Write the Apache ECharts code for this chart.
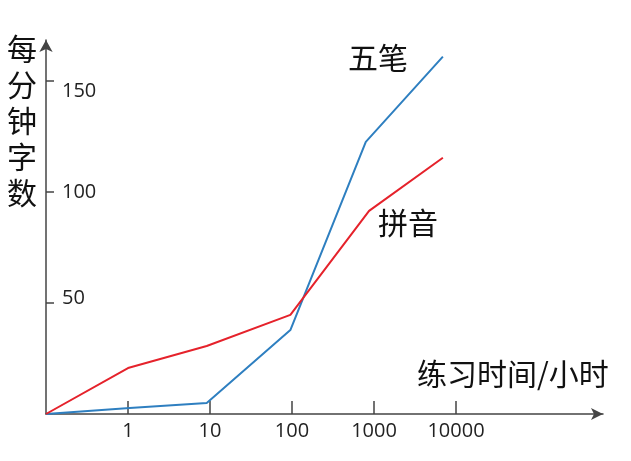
<!DOCTYPE html>
<html><head><meta charset="utf-8">
<script src="https://cdn.jsdelivr.net/npm/echarts@6/dist/echarts.min.js"></script>
<style>html,body{margin:0;padding:0;background:#fff}#c{width:631px;height:461px}</style>
</head><body><div id="c"></div>
<script>
var xTickLabels = ['0', '1', '10', '100', '1000', '10000'];
var wubiX = [0, 1.02, 1.96, 2.98, 3.9, 4.84];
var wubiY = [0, 2.7, 5, 37.8, 122.5, 160.8];
var pinyinX = [0, 1.0, 1.96, 2.98, 3.94, 4.84];
var pinyinY = [0, 20.7, 30.6, 44.6, 91.4, 115.3];
var yTicks = [50, 100, 150];
var FONT = '"Noto Sans CJK SC", "Microsoft YaHei", sans-serif';
var NUMFONT = '"Open Sans", "Noto Sans", sans-serif';

function pairs(xs, ys) { return xs.map(function (x, i) { return [x, ys[i]]; }); }

var chart = echarts.init(document.getElementById('c'), null, {renderer: 'canvas'});
chart.setOption({
  animation: false,
  grid: {left: 46, right: 28, top: 40, bottom: 47, containLabel: false},
  xAxis: {
    type: 'value', min: 0, max: (631 - 28 - 46) / 82, interval: 1,
    splitLine: {show: false},
    axisLine: {lineStyle: {color: '#444', width: 1.5}, symbol: ['none', 'arrow'], symbolSize: [9, 12], symbolOffset: [0, 0]},
    axisTick: {show: true, inside: true, length: 13, customValues: [1, 2, 3, 4, 5], lineStyle: {color: '#444', width: 1.5}},
    axisLabel: {
      customValues: [1, 2, 3, 4, 5],
      formatter: function (v) { return xTickLabels[Math.round(v)] || ''; },
      color: '#222', fontSize: 20, fontFamily: NUMFONT, margin: 7
    }
  },
  yAxis: {
    type: 'value', min: 0, max: (461 - 47 - 40) / 2.222,
    splitLine: {show: false},
    axisLine: {lineStyle: {color: '#444', width: 1.5}, symbol: ['none', 'arrow'], symbolSize: [10, 12], symbolOffset: [0, 0]},
    axisTick: {show: true, inside: true, length: 8, customValues: yTicks, lineStyle: {color: '#444', width: 1.5}},
    axisLabel: {
      customValues: yTicks,
      inside: true, margin: 16,
      formatter: function (v) { return v === 150 ? '{c|' + v + '}' : (v === 100 ? '{b|' + v + '}' : '{a|' + v + '}'); },
      rich: {
        a: {fontSize: 20, fontFamily: NUMFONT, color: '#222', padding: [0, 0, 10, 0]},
        b: {fontSize: 20, fontFamily: NUMFONT, color: '#222'},
        c: {fontSize: 20, fontFamily: NUMFONT, color: '#222', padding: [22, 0, 0, 0]}
      }
    }
  },
  series: [
    {name: '五笔', type: 'line', data: pairs(wubiX, wubiY), showSymbol: false, lineStyle: {color: '#2e7fc0', width: 2}, itemStyle: {color: '#2e7fc0'}},
    {name: '拼音', type: 'line', data: pairs(pinyinX, pinyinY), showSymbol: false, lineStyle: {color: '#e5222b', width: 2}, itemStyle: {color: '#e5222b'}}
  ],
  graphic: [
    {type: 'text', left: 7, top: 31, style: {text: '每\n分\n钟\n字\n数', font: '30px ' + FONT, fill: '#111', lineHeight: 36}},
    {type: 'text', left: 348, top: 43, style: {text: '五笔', font: '30px ' + FONT, fill: '#111'}},
    {type: 'text', left: 378, top: 208, style: {text: '拼音', font: '30px ' + FONT, fill: '#111'}},
    {type: 'text', left: 417, top: 359, style: {text: '练习时间/小时', font: '30px ' + FONT, fill: '#111'}}
  ]
});
</script></body></html>
